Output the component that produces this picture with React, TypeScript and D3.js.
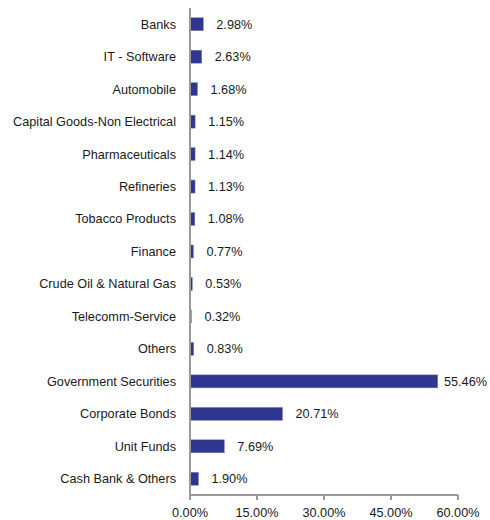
import React from "react";
import * as d3 from "d3";

const categories = [
  "Banks",
  "IT - Software",
  "Automobile",
  "Capital Goods-Non Electrical",
  "Pharmaceuticals",
  "Refineries",
  "Tobacco Products",
  "Finance",
  "Crude Oil & Natural Gas",
  "Telecomm-Service",
  "Others",
  "Government Securities",
  "Corporate Bonds",
  "Unit Funds",
  "Cash Bank & Others",
];
const values = [2.98, 2.63, 1.68, 1.15, 1.14, 1.13, 1.08, 0.77, 0.53, 0.32, 0.83, 55.46, 20.71, 7.69, 1.9];
const ticks = [0, 15, 30, 45, 60];

const W = 490;
const H = 520;
const margin = { left: 190, right: 32, top: 8, bottom: 25 };

export default function App() {
  const x = d3.scaleLinear().domain([0, 60]).range([margin.left, W - margin.right]);
  const y = d3
    .scaleBand<string>()
    .domain(categories)
    .range([margin.top, H - margin.bottom])
    .paddingInner(0.6)
    .paddingOuter(0.3);
  const bh = 13;
  const font = "Liberation Sans, Arial, sans-serif";
  const fs = 12.7;
  const axisY = H - margin.bottom;
  return (
    <div style={{ position: "absolute", left: 0, top: 0 }}>
      <svg width={W} height={H} style={{ display: "block" }}>
        <rect width={W} height={H} fill="#fff" />
        {categories.map((c, i) => {
          const cy = (y(c) as number) + y.bandwidth() / 2;
          const xe = x(values[i]);
          let lx = xe + 13;
          let anchor: "start" | "end" = "start";
          if (lx + 43 > W - 2) {
            lx = W - 3;
            anchor = "end";
          }
          return (
            <g key={c}>
              <rect
                x={x(0)}
                y={cy - bh / 2}
                width={xe - x(0)}
                height={bh}
                fill="#2E368F"
                stroke="#8088c0"
                strokeWidth={0.5}
              />
              <text
                x={margin.left - 14}
                y={cy}
                dy="0.35em"
                textAnchor="end"
                fontFamily={font}
                fontSize={fs}
                fill="#1a1a1a"
              >
                {c}
              </text>
              <text x={lx} y={cy} dy="0.35em" textAnchor={anchor} fontFamily={font} fontSize={fs} fill="#1a1a1a">
                {values[i].toFixed(2) + "%"}
              </text>
            </g>
          );
        })}
        <line x1={x(0)} x2={x(0)} y1={margin.top} y2={axisY} stroke="#999" strokeWidth={2} />
        <line x1={x(0)} x2={x(60)} y1={axisY} y2={axisY} stroke="#999" strokeWidth={2} />
        {ticks.map((t) => (
          <g key={t}>
            <line x1={x(t)} x2={x(t)} y1={axisY} y2={axisY + 5} stroke="#999" strokeWidth={2} />
            <text x={x(t)} y={axisY + 22} textAnchor="middle" fontFamily={font} fontSize={fs} fill="#1a1a1a">
              {t.toFixed(2) + "%"}
            </text>
          </g>
        ))}
      </svg>
    </div>
  );
}
